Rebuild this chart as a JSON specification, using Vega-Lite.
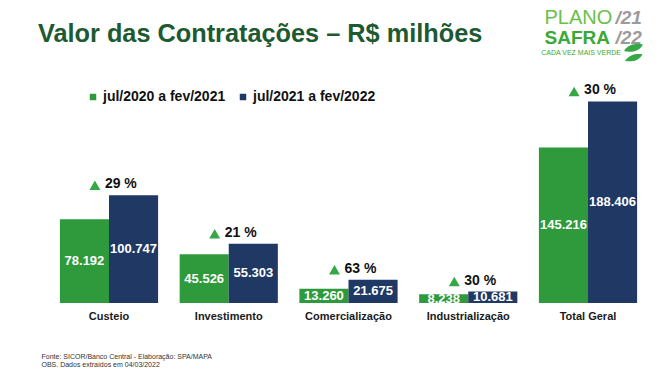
{
  "$schema": "https://vega.github.io/schema/vega-lite/v6.json",
  "width": 599,
  "height": 214,
  "autosize": "none",
  "padding": {"left": 49, "top": 89, "right": 15, "bottom": 70},
  "background": "white",
  "config": {
    "view": {"stroke": null},
    "font": "Liberation Sans",
    "locale": {"number": {"decimal": ",", "thousands": ".", "grouping": [3], "currency": ["R$", ""], "percent": " %"}}
  },
  "title": {
    "text": "Valor das Contratações – R$ milhões",
    "anchor": "start",
    "frame": "group",
    "dx": -11,
    "offset": -60,
    "baseline": "alphabetic",
    "font": "Liberation Sans",
    "fontSize": 25.3,
    "fontWeight": "bold",
    "color": "#1d5a31"
  },
  "data": {
    "values": [
      {"cat": "Custeio", "series": "jul/2020 a fev/2021", "value": 78192, "pct": null},
      {"cat": "Custeio", "series": "jul/2021 a fev/2022", "value": 100747, "pct": 0.29},
      {"cat": "Investimento", "series": "jul/2020 a fev/2021", "value": 45526, "pct": null},
      {"cat": "Investimento", "series": "jul/2021 a fev/2022", "value": 55303, "pct": 0.21},
      {"cat": "Comercialização", "series": "jul/2020 a fev/2021", "value": 13260, "pct": null},
      {"cat": "Comercialização", "series": "jul/2021 a fev/2022", "value": 21675, "pct": 0.63},
      {"cat": "Industrialização", "series": "jul/2020 a fev/2021", "value": 8238, "pct": null},
      {"cat": "Industrialização", "series": "jul/2021 a fev/2022", "value": 10681, "pct": 0.30},
      {"cat": "Total Geral", "series": "jul/2020 a fev/2021", "value": 145216, "pct": null},
      {"cat": "Total Geral", "series": "jul/2021 a fev/2022", "value": 188406, "pct": 0.30}
    ]
  },
  "layer": [
    {
      "layer": [
        {
          "mark": {"type": "bar"},
          "encoding": {
            "x": {
              "field": "cat", "type": "nominal", "sort": null,
              "scale": {"paddingInner": 0.18, "paddingOuter": 0.091},
              "axis": {
                "orient": "bottom",
                "labelAngle": 0, "labelFont": "Liberation Sans", "labelFontSize": 11, "labelFontWeight": "bold",
                "labelColor": "#1a1a1a", "labelPadding": 7, "domain": false, "ticks": false, "grid": false,
                "title": ["Fonte: SICOR/Banco Central - Elaboração: SPA/MAPA", "OBS. Dados extraídos em 04/03/2022"],
                "titleFont": "Liberation Sans", "titleFontSize": 7, "titleFontWeight": "normal", "titleColor": "#333333",
                "titleAlign": "left", "titleAnchor": "start", "titleBaseline": "top", "titleX": -8, "titleY": 49, "titleLineHeight": 8
              }
            },
            "xOffset": {"field": "series", "type": "nominal", "scale": {"paddingInner": 0, "paddingOuter": 0}},
            "y": {
              "field": "value", "type": "quantitative",
              "scale": {"domain": [0, 200000], "nice": false, "zero": true},
              "axis": {
                "orient": "left", "labels": false, "ticks": false, "domain": false, "grid": false,
                "title": "PLANO", "titleAngle": 0, "titleX": 495, "titleY": -66, "titleAlign": "left", "titleBaseline": "alphabetic",
                "titleFont": "Liberation Sans", "titleFontSize": 20, "titleFontWeight": "normal", "titleColor": "#6abf4b"
              }
            },
            "color": {
              "field": "series", "type": "nominal",
              "scale": {"range": ["#2e9a3c", "#1f3864"]},
              "legend": {
                "orient": "none", "legendX": 37, "legendY": 1, "direction": "horizontal", "title": null,
                "symbolType": "square", "symbolSize": 42, "symbolStrokeWidth": 0, "labelOffset": 3, "columnPadding": 10,
                "labelFont": "Liberation Sans", "labelFontSize": 14, "labelFontWeight": "bold", "labelColor": "#111111", "padding": 0
              }
            }
          }
        },
        {
          "mark": {"type": "text", "align": "center", "baseline": "middle", "font": "Liberation Sans", "fontSize": 13, "fontWeight": "bold", "color": "white"},
          "encoding": {
            "x": {"field": "cat", "type": "nominal", "sort": null},
            "xOffset": {"field": "series", "type": "nominal"},
            "y": {
              "field": "value", "type": "quantitative",
              "scale": {"domain": [0, 400000], "nice": false, "zero": true},
              "axis": {
                "orient": "right", "labels": false, "ticks": false, "domain": false, "grid": false,
                "title": "SAFRA", "titleAngle": 0, "titleX": -104, "titleY": -46, "titleAlign": "left", "titleBaseline": "alphabetic",
                "titleFont": "Liberation Sans", "titleFontSize": 19, "titleFontWeight": "bold", "titleColor": "#3aa935"
              }
            },
            "text": {"field": "value", "type": "quantitative", "format": ",d"}
          }
        }
      ],
      "resolve": {"scale": {"y": "independent"}}
    },
    {
      "transform": [{"filter": "datum.pct != null"}],
      "layer": [
        {
          "mark": {"type": "point", "shape": "triangle-up", "filled": true, "size": 120, "color": "#35a846", "xOffset": -14, "yOffset": -10},
          "encoding": {
            "x": {
              "field": "cat", "type": "nominal", "sort": null,
              "scale": {"paddingInner": 0.18, "paddingOuter": 0.091},
              "axis": {
                "orient": "top", "labels": false, "ticks": false, "domain": false, "grid": false,
                "title": ["/21", "/22"], "titleX": 566, "titleY": -66, "titleAlign": "left", "titleBaseline": "alphabetic",
                "titleFont": "Liberation Sans", "titleFontSize": 19, "titleFontWeight": "bold", "titleFontStyle": "italic",
                "titleColor": "#9b9b9b", "titleLineHeight": 20
              }
            },
            "y": {
              "field": "value", "type": "quantitative",
              "scale": {"domain": [0, 200000], "nice": false, "zero": true},
              "axis": null
            },
            "opacity": {
              "datum": "CADA VEZ MAIS VERDE", "type": "ordinal",
              "scale": {"range": [1, 1]},
              "legend": {
                "orient": "none", "legendX": 575, "legendY": -46, "title": null, "padding": 0,
                "labelFont": "Liberation Sans", "labelFontSize": 7, "labelColor": "#3aa935", "labelAlign": "right", "labelOffset": -22,
                "symbolType": "M-1,-0.15 C-0.55,-0.9 0.45,-1 1,-0.85 C0.6,-0.1 -0.35,0.05 -1,-0.15 Z M-0.9,0.9 C-0.45,0.2 0.35,0.1 0.95,0.2 C0.55,0.9 -0.2,1 -0.9,0.9 Z",
                "symbolSize": 361, "symbolFillColor": "#3aa935", "symbolStrokeColor": "#3aa935", "symbolStrokeWidth": 0, "symbolOpacity": 1,
                "encode": {"symbols": {"size": {"value": 361}}}
              }
            }
          }
        },
        {
          "mark": {"type": "text", "align": "left", "baseline": "middle", "dx": -4, "dy": -11, "font": "Liberation Sans", "fontSize": 14, "fontWeight": "bold", "color": "#111111"},
          "encoding": {
            "x": {"field": "cat", "type": "nominal", "sort": null},
            "y": {"field": "value", "type": "quantitative"},
            "text": {"field": "pct", "type": "quantitative", "format": ".0%"}
          }
        }
      ]
    }
  ],
  "resolve": {"scale": {"y": "independent", "x": "independent"}}
}
